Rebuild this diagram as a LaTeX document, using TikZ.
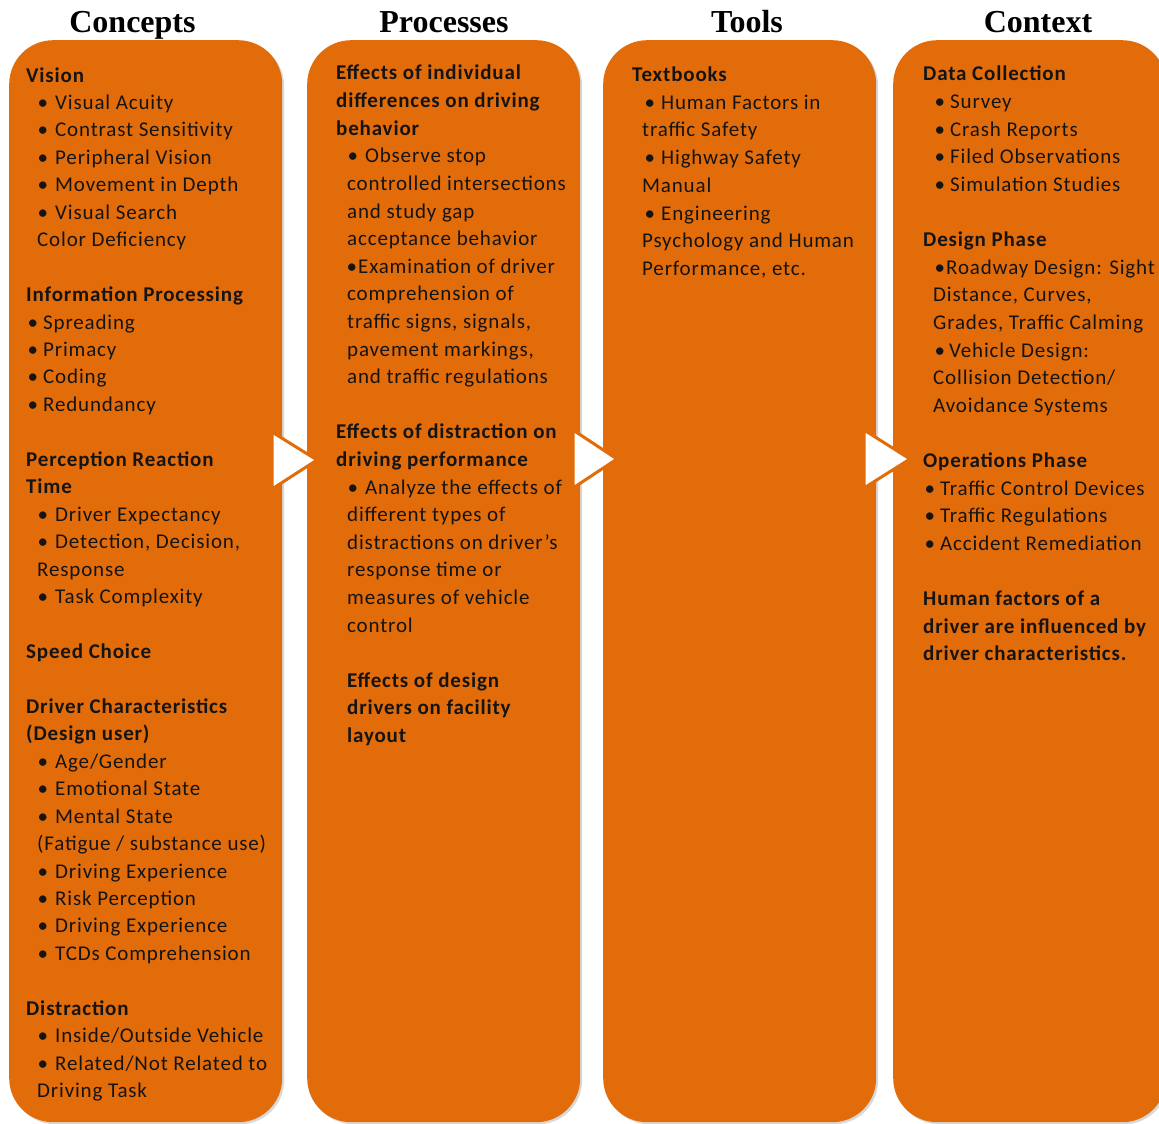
\documentclass[tikz,border=0pt]{standalone}
\usepackage{fontspec}
\setmainfont{Carlito}[LetterSpace=4]
\newfontfamily\hdrfont{Liberation Serif}
\usetikzlibrary{shadows}
\definecolor{boxorange}{HTML}{E36C0A}
\definecolor{inkc}{HTML}{141414}
\newcommand\bitem[3]{\hspace*{#1pt}\makebox[#2pt][l]{•}#3}
\newcommand\indl[2]{\hspace*{#1pt}#2}
\begin{document}
\begin{tikzpicture}[x=1pt,y=-1pt,
  colbox/.style={fill=boxorange, rounded corners=44pt, inner sep=0, anchor=north west,
    minimum width=273, minimum height=1082,
    drop shadow={shadow xshift=2pt, shadow yshift=-2pt, fill=gray!60, opacity=0.5}},
  hdr/.style={font=\hdrfont\bfseries\fontsize{32}{34}\selectfont, anchor=base, inner sep=0},
  txtline/.style={anchor=base west, inner sep=0, text=inkc, font=\fontsize{21}{24}\selectfont},
  arrowtri/.style={fill=white, draw=boxorange, line width=3pt, line join=miter}]
\useasboundingbox (0,0) rectangle (1159,1124);
\fill[white] (0,0) rectangle (1159,1124);

% headers
\node[hdr] (h1) at (132.5,33) {Concepts};
\node[hdr] (h2) at (444,33) {Processes};
\node[hdr] (h3) at (747,33) {Tools};
\node[hdr] (h4) at (1038,33) {Context};

% column boxes
\node[colbox] (b1) at (9,40) {};
\node[colbox] (b2) at (307,40) {};
\node[colbox] (b3) at (603,40) {};
\node[colbox] (b4) at (893,40) {};

% arrows between columns
\draw[arrowtri] (272,432) -- (317,460) -- (272,489) -- cycle;
\draw[arrowtri] (573,430) -- (617,459) -- (573,488) -- cycle;
\draw[arrowtri] (864,430) -- (910,459) -- (864,488) -- cycle;

% column 1
\foreach \entry [count=\i from 0] in {
{\bfseries Vision},
{\bitem{11.5}{17.5}{Visual Acuity}},
{\bitem{11.5}{17.5}{Contrast Sensitivity}},
{\bitem{11.5}{17.5}{Peripheral Vision}},
{\bitem{11.5}{17.5}{Movement in Depth}},
{\bitem{11.5}{17.5}{Visual Search}},
{\indl{11}{Color Deficiency}},
{},
{\bfseries Information Processing},
{\bitem{1.5}{15.5}{Spreading}},
{\bitem{1.5}{15.5}{Primacy}},
{\bitem{1.5}{15.5}{Coding}},
{\bitem{1.5}{15.5}{Redundancy}},
{},
{\bfseries Perception Reaction},
{\bfseries Time},
{\bitem{11.5}{17.5}{Driver Expectancy}},
{\bitem{11.5}{17.5}{Detection, Decision,}},
{\indl{11}{Response}},
{\bitem{11.5}{17.5}{Task Complexity}},
{},
{\bfseries Speed Choice},
{},
{\bfseries Driver Characteristics},
{\bfseries (Design user)},
{\bitem{11.5}{17.5}{Age/Gender}},
{\bitem{11.5}{17.5}{Emotional State}},
{\bitem{11.5}{17.5}{Mental State}},
{\indl{11}{(Fatigue / substance use)}},
{\bitem{11.5}{17.5}{Driving Experience}},
{\bitem{11.5}{17.5}{Risk Perception}},
{\bitem{11.5}{17.5}{Driving Experience}},
{\bitem{11.5}{17.5}{TCDs Comprehension}},
{},
{\bfseries Distraction},
{\bitem{11.5}{17.5}{Inside/Outside Vehicle}},
{\bitem{11.5}{17.5}{Related/Not Related to}},
{\indl{11}{Driving Task}}}
\node[txtline] (a\i) at (26,{82+\i*27.45}) {\entry};

% column 2
\foreach \entry [count=\i from 0] in {
{\bfseries Effects of individual},
{\bfseries differences on driving},
{\bfseries behavior},
{\bitem{11.5}{17.5}{Observe stop}},
{\indl{11}{controlled intersections}},
{\indl{11}{and study gap}},
{\indl{11}{acceptance behavior}},
{\bitem{10.5}{11.5}{Examination of driver}},
{\indl{11}{comprehension of}},
{\indl{11}{traffic signs, signals,}},
{\indl{11}{pavement markings,}},
{\indl{11}{and traffic regulations}},
{},
{\bfseries Effects of distraction on},
{\bfseries driving performance},
{\bitem{11.5}{17.5}{Analyze the effects of}},
{\indl{11}{different types of}},
{\indl{11}{distractions on driver’s}},
{\indl{11}{response time or}},
{\indl{11}{measures of vehicle}},
{\indl{11}{control}},
{},
{\indl{11}{\bfseries Effects of design}},
{\indl{11}{\bfseries drivers on facility}},
{\indl{11}{\bfseries layout}}}
\node[txtline] (p\i) at (336,{80+\i*27.6}) {\entry};

% column 3
\foreach \entry [count=\i from 0] in {
{\bfseries Textbooks},
{\bitem{12.5}{16.5}{Human Factors in}},
{\indl{10}{traffic Safety}},
{\bitem{12.5}{16.5}{Highway Safety}},
{\indl{10}{Manual}},
{\bitem{12.5}{16.5}{Engineering}},
{\indl{10}{Psychology and Human}},
{\indl{10}{Performance, etc.}}}
\node[txtline] (t\i) at (632,{81.5+\i*27.7}) {\entry};

% column 4
\foreach \entry [count=\i from 0] in {
{\bfseries Data Collection},
{\bitem{11.5}{15.5}{Survey}},
{\bitem{11.5}{15.5}{Crash Reports}},
{\bitem{11.5}{15.5}{Filed Observations}},
{\bitem{11.5}{15.5}{Simulation Studies}},
{},
{\bfseries Design Phase},
{\bitem{11.5}{11.5}{Roadway Design: Sight}},
{\indl{10}{Distance, Curves,}},
{\indl{10}{Grades, Traffic Calming}},
{\bitem{11.5}{14.5}{Vehicle Design:}},
{\indl{10}{Collision Detection/}},
{\indl{10}{Avoidance Systems}},
{},
{\bfseries Operations Phase},
{\bitem{1.5}{15.5}{Traffic Control Devices}},
{\bitem{1.5}{15.5}{Traffic Regulations}},
{\bitem{1.5}{15.5}{Accident Remediation}},
{},
{\bfseries Human factors of a},
{\bfseries driver are influenced by},
{\bfseries driver characteristics.}}
\node[txtline] (x\i) at (923,{81+\i*27.6}) {\entry};
\end{tikzpicture}
\end{document}
